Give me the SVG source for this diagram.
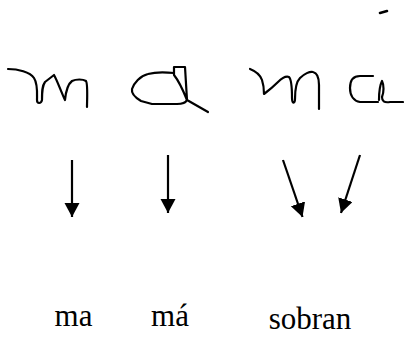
<svg xmlns="http://www.w3.org/2000/svg" width="404" height="337" viewBox="0 0 404 337">
<defs>
<style>
.hw{fill:none;stroke:#000;stroke-width:2.2;stroke-linecap:round;stroke-linejoin:round}
.conn{stroke:#000;stroke-width:2.2;fill:none}
.lbl{font-size:31px;fill:#000;text-anchor:middle}
</style>
<marker id="ah" markerUnits="userSpaceOnUse" markerWidth="16" markerHeight="16" refX="14" refY="7.5" orient="auto">
<path d="M0,0 L14,7.5 L0,15 z" fill="#000"/>
</marker>
</defs>
<rect width="404" height="337" fill="#fff"/>
<g id="glyph-m1">
<path class="hw" d="M8,69 C18,69 30,72 34,78 C38,84 37,95 37,100 C37,104 41,104 42,100 C42,92 42,86 45,82 L54,75 C57,80 62,94 65,100 C66,90 68,84 72,81 C76,79 83,79 86,81 C88,84 87,100 87,107"/>
</g>
<g id="glyph-a1">
<path class="hw" d="M174,73 C165,72 155,72 148,74 C140,76 134,83 132,89 C131,94 136,98 141,101 L152,104 L177,104 C183,104 186,102 187,100"/>
<path class="hw" d="M187,100 L185,67 L174,67 L174,75 C178,80 183,90 187,100 L208,112"/>
</g>
<g id="glyph-m2">
<path class="hw" d="M250,69 C255,71 260,74 262,80 C264,86 264,92 264,94 C268,91 274,86 278,82 C282,78 286,76 289,77 C292,80 292,90 292,98 C292,104 295,104 295,99 C295,90 296,82 300,78 C304,74 310,71 313,72 C318,73 319,80 319,85 L319,109"/>
</g>
<g id="glyph-a2">
<path class="hw" d="M373,76 L360,76 C353,76 350,81 350,88 C350,96 354,101 360,102 L378,102"/>
<path class="hw" d="M379,100 C379,92 380,85 382,81 C384,85 384,92 382,97 C382,101 384,103 390,102 L403,102"/>
<path class="hw" d="M380,13 L387,11" style="stroke-width:2.6"/>
</g>
<g id="connectors">
<line class="conn" x1="72" y1="160" x2="72" y2="217" marker-end="url(#ah)"/>
<line class="conn" x1="168" y1="155" x2="168" y2="213" marker-end="url(#ah)"/>
<line class="conn" x1="283" y1="160" x2="302.5" y2="217" marker-end="url(#ah)"/>
<line class="conn" x1="360" y1="155" x2="341" y2="213" marker-end="url(#ah)"/>
</g>
<g id="label-ma"><text class="lbl" font-family="'Liberation Serif', 'Times New Roman', serif" x="73.5" y="326">ma</text></g>
<g id="label-ma-acute"><text class="lbl" font-family="'Liberation Serif', 'Times New Roman', serif" x="170" y="326">má</text></g>
<g id="label-sobran"><text class="lbl" font-family="'Liberation Serif', 'Times New Roman', serif" x="310" y="329">sobran</text></g>
</svg>
